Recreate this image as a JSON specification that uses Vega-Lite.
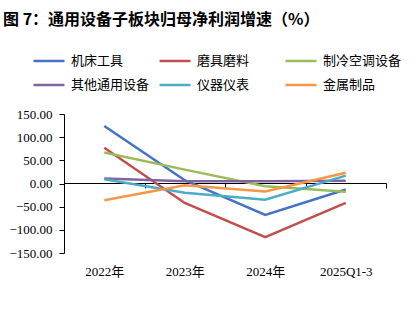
{
  "$schema": "https://vega.github.io/schema/vega-lite/v6.json",
  "width": 322,
  "height": 139,
  "autosize": {"type": "none"},
  "padding": {"left": 64, "top": 114, "right": 32, "bottom": 74},
  "background": "white",
  "title": {
    "text": "图 7：通用设备子板块归母净利润增速（%）",
    "anchor": "start",
    "frame": "group",
    "dx": -61,
    "offset": 16,
    "fontSize": 16,
    "font": "Noto Sans CJK SC",
    "fontWeight": "bold",
    "color": "#000000"
  },
  "config": {"view": {"stroke": null}},
  "data": {
    "values": [
      {"period": "2022年", "series": "机床工具", "value": 124},
      {"period": "2023年", "series": "机床工具", "value": 7},
      {"period": "2024年", "series": "机床工具", "value": -68},
      {"period": "2025Q1-3", "series": "机床工具", "value": -13},
      {"period": "2022年", "series": "磨具磨料", "value": 77},
      {"period": "2023年", "series": "磨具磨料", "value": -42},
      {"period": "2024年", "series": "磨具磨料", "value": -116},
      {"period": "2025Q1-3", "series": "磨具磨料", "value": -42},
      {"period": "2022年", "series": "制冷空调设备", "value": 67},
      {"period": "2023年", "series": "制冷空调设备", "value": 30},
      {"period": "2024年", "series": "制冷空调设备", "value": -6},
      {"period": "2025Q1-3", "series": "制冷空调设备", "value": -18},
      {"period": "2022年", "series": "其他通用设备", "value": 11},
      {"period": "2023年", "series": "其他通用设备", "value": 5},
      {"period": "2024年", "series": "其他通用设备", "value": 5},
      {"period": "2025Q1-3", "series": "其他通用设备", "value": 6},
      {"period": "2022年", "series": "仪器仪表", "value": 9},
      {"period": "2023年", "series": "仪器仪表", "value": -20},
      {"period": "2024年", "series": "仪器仪表", "value": -35},
      {"period": "2025Q1-3", "series": "仪器仪表", "value": 17},
      {"period": "2022年", "series": "金属制品", "value": -36},
      {"period": "2023年", "series": "金属制品", "value": -4},
      {"period": "2024年", "series": "金属制品", "value": -17},
      {"period": "2025Q1-3", "series": "金属制品", "value": 23}
    ]
  },
  "mark": {"type": "line", "strokeWidth": 2.5},
  "encoding": {
    "x": {
      "field": "period",
      "type": "nominal",
      "sort": null,
      "bandPosition": 0.5,
      "scale": {"type": "band", "paddingInner": 0, "paddingOuter": 0},
      "axis": {
        "title": null,
        "offset": -70,
        "domain": true,
        "domainColor": "#000000",
        "domainWidth": 1,
        "ticks": true,
        "tickBand": "extent",
        "tickColor": "#000000",
        "tickSize": 5,
        "labelAngle": 0,
        "labelPadding": 77,
        "labelFont": "Liberation Serif, Noto Sans CJK SC",
        "labelFontSize": 13,
        "labelColor": "#000000"
      }
    },
    "y": {
      "field": "value",
      "type": "quantitative",
      "scale": {"domain": [-150, 150], "nice": false, "zero": false},
      "axis": {
        "title": null,
        "values": [-150, -100, -50, 0, 50, 100, 150],
        "format": ".2f",
        "grid": false,
        "domain": true,
        "domainColor": "#000000",
        "ticks": true,
        "tickColor": "#000000",
        "tickSize": 5,
        "labelPadding": 7,
        "labelFont": "Liberation Serif",
        "labelFontSize": 13,
        "labelColor": "#000000"
      }
    },
    "color": {
      "field": "series",
      "type": "nominal",
      "scale": {
        "domain": ["机床工具", "磨具磨料", "制冷空调设备", "其他通用设备", "仪器仪表", "金属制品"],
        "range": ["#4472C4", "#C0504D", "#9BBB59", "#8064A2", "#4BACC6", "#F79646"]
      },
      "legend": {
        "title": null,
        "orient": "none",
        "direction": "horizontal",
        "legendX": -32,
        "legendY": -70,
        "columns": 3,
        "gridAlign": "all",
        "symbolType": "stroke",
        "symbolSize": 961,
        "symbolStrokeWidth": 2.5,
        "labelFont": "Noto Sans CJK SC",
        "labelFontSize": 13,
        "labelColor": "#000000",
        "labelOffset": 5,
        "columnPadding": 4,
        "rowPadding": -7
      }
    }
  }
}
